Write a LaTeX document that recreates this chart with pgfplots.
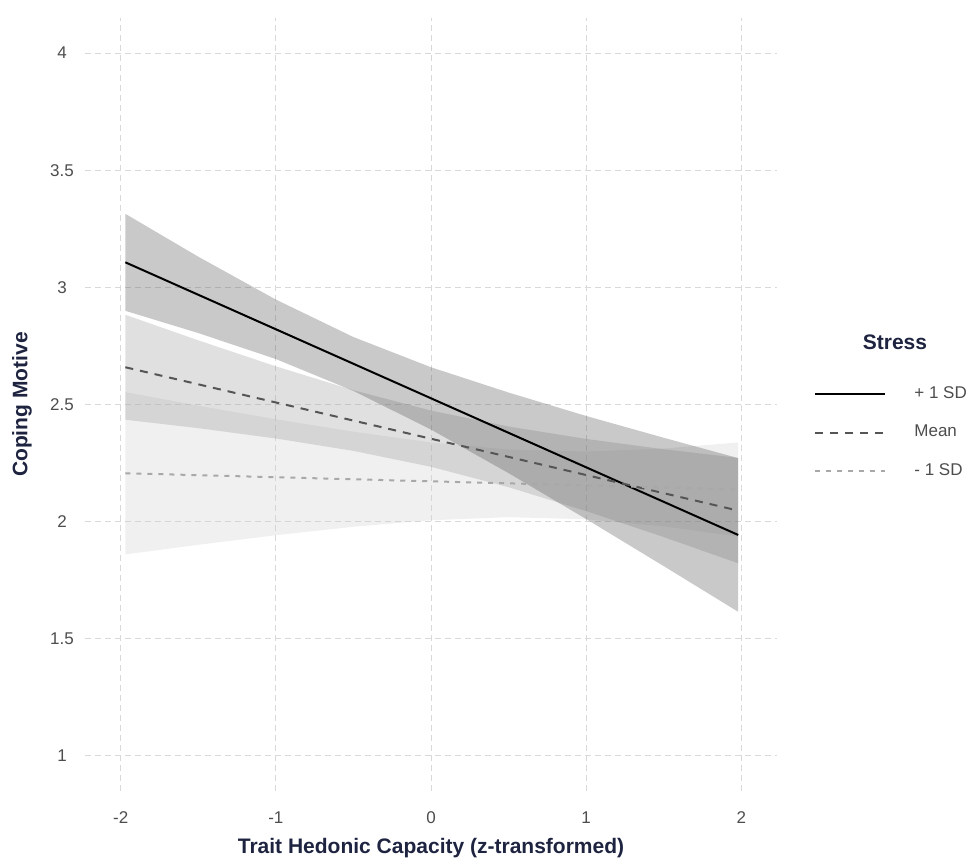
\documentclass[border=0pt]{standalone}
\usepackage{pgfplots}
\pgfplotsset{compat=1.18}
\usepackage{fontspec}
\setmainfont{Liberation Sans}
\definecolor{titlec}{HTML}{1E2440}
\definecolor{tickc}{HTML}{4D4D4D}
\definecolor{gridc}{HTML}{D9D9D9}
\definecolor{meanc}{HTML}{555555}
\definecolor{lowc}{HTML}{A8A8A8}
\begin{document}
\begin{tikzpicture}
\path[use as bounding box] (-42.5pt,-35pt) rectangle (444pt,395.5pt);
\begin{axis}[
  scale only axis, width=346pt, height=386.5pt,
  xmin=-2.23, xmax=2.23, ymin=0.85, ymax=4.15,
  axis line style={draw=none}, major tick length=0pt,
  xtick={-2,-1,0,1,2}, xticklabels={-2,-1,0,1,2},
  ytick={1,1.5,2,2.5,3,3.5,4}, yticklabels={1,1.5,2,2.5,3,3.5,4},
  tick label style={font=\fontsize{8.5}{10}\selectfont, text=tickc},
  xticklabel style={anchor=center, yshift=-13.5pt},
  yticklabel style={anchor=center, xshift=-11.5pt},
  grid=major, grid style={gridc, dash pattern=on 3pt off 2pt, line width=0.5pt},
  xlabel={Trait Hedonic Capacity (z-transformed)},
  ylabel={Coping Motive},
  label style={font=\bfseries\fontsize{10.5}{12}\selectfont, text=titlec},
  xlabel style={at={(axis description cs:0.5,0)}, anchor=center, yshift=-28.5pt},
  ylabel style={at={(axis description cs:0,0.5)}, anchor=center, yshift=31.5pt},
  legend style={at={(axis description cs:1.0448,0.5285)}, anchor=north west, draw=none, fill=none,
    font=\fontsize{8.5}{10}\selectfont, text=tickc, row sep=11.75pt,
    nodes={inner sep=0pt}, column sep=14pt},
  legend cell align=left,
  legend image code/.code={\draw[#1] (0pt,0pt) -- (35pt,0pt);},
  clip=false,
]
% bands (closed polygons: upper forward, lower backward)
\addplot[draw=none, fill=black!20, fill opacity=0.3, forget plot] coordinates {
(-1.97,2.553) (-1.5,2.495) (-1,2.437) (-0.5,2.384) (0,2.338) (0.5,2.308) (1,2.299) (1.5,2.312) (1.98,2.338)
(1.98,1.936) (1.5,1.980) (1,2.010) (0.5,2.019) (0,2.006) (-0.5,1.978) (-1,1.942) (-1.5,1.901) (-1.97,1.860)} -- cycle;
\addplot[draw=none, fill=black!40, fill opacity=0.3, forget plot] coordinates {
(-1.97,2.883) (-1.5,2.774) (-1,2.663) (-0.5,2.561) (0,2.474) (0.5,2.406) (1,2.353) (1.5,2.309) (1.98,2.272)
(1.98,1.822) (1.5,1.934) (1,2.045) (0.5,2.147) (0,2.234) (-0.5,2.302) (-1,2.355) (-1.5,2.399) (-1.97,2.435)} -- cycle;
\addplot[draw=none, fill=black!70, fill opacity=0.3, forget plot] coordinates {
(-1.97,3.314) (-1.5,3.131) (-1,2.948) (-0.5,2.788) (0,2.659) (0.5,2.551) (1,2.451) (1.5,2.358) (1.98,2.271)
(1.98,1.615) (1.5,1.810) (1,2.011) (0.5,2.207) (0,2.393) (-0.5,2.558) (-1,2.694) (-1.5,2.805) (-1.97,2.900)} -- cycle;
% lines
\addplot[black, line width=1pt] coordinates {(-1.97,3.107) (1.98,1.943)};
\addlegendentry{+ 1 SD}
\addplot[meanc, line width=1pt, dash pattern=on 4pt off 3.5pt] coordinates {(-1.97,2.659) (1.98,2.047)};
\addlegendentry{Mean}
\addplot[lowc, line width=1pt, dash pattern=on 2.5pt off 3pt] coordinates {(-1.97,2.2065) (1.98,2.1374)};
\addlegendentry{- 1 SD}
\node[font=\bfseries\fontsize{10.5}{12}\selectfont, text=titlec, anchor=center] at (axis description cs:1.1705,0.5808) {Stress};
\end{axis}
\end{tikzpicture}
\end{document}
